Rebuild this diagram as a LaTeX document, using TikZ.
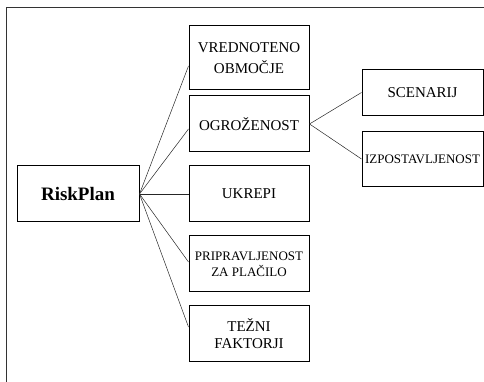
\documentclass[tikz,border=0pt]{standalone}
\usepackage{fontspec}
\setmainfont{Liberation Serif}
\usepackage{tikz}
\usetikzlibrary{positioning}
\tikzset{
  root/.style={
    rectangle,
    minimum width=122pt,
    minimum height=56pt,
    text centered,
    draw=black,
    line width=1pt,
    font=\rmfamily\bfseries\fontsize{19}{22}\selectfont
  },
  item/.style={
    rectangle,
    minimum width=120pt,
    minimum height=56pt,
    inner sep=1pt,
    align=center,
    draw=black,
    line width=1pt,
    font=\rmfamily\fontsize{15}{17}\selectfont
  },
  narrow/.style={
    font=\rmfamily\fontsize{13}{16}\selectfont
  },
  link/.style={
    line width=0.5pt,
    black!85
  },
  frame/.style={
    line width=0.8pt,
    black!80
  }
}

\begin{document}
\begin{tikzpicture}[node distance=70pt]
  \useasboundingbox (0,0) rectangle (484pt,382pt);
  \draw[frame] (484pt,375pt) -- (6pt,375pt) -- (6pt,0pt);

  % Root
  \node (risk) [root] at (78pt,188pt) {RiskPlan};

  % First level
  \node (ukrepi) [item, right of=risk, node distance=171pt] {UKREPI};
  \node (ogr) [item, above of=ukrepi] {OGROŽENOST};
  \node (vred) [item, above of=ogr, node distance=66pt, minimum height=64pt] {VREDNOTENO\\[4pt]OBMOČJE};
  \node (prip) [item, narrow, below of=ukrepi] {PRIPRAVLJENOST\\ZA PLAČILO};
  \node (tezni) [item, below of=prip] {TEŽNI\\FAKTORJI};

  % Second level
  \node (scen) [item, right of=ogr, node distance=173.5pt, yshift=31.5pt, minimum width=121pt, minimum height=46pt] {SCENARIJ};
  \node (izp) [item, narrow, right of=ogr, node distance=173.5pt, yshift=-35pt, minimum width=121pt, minimum height=55pt] {IZPOSTAVLJENOST};

  % Links
  \draw[link] (risk.east) -- ([yshift=-8pt]vred.west);
  \draw[link] (risk.east) -- ([yshift=-5pt]ogr.west);
  \draw[link] (risk.east) -- (ukrepi.west);
  \draw[link] (risk.east) -- ([yshift=2pt]prip.west);
  \draw[link] (risk.east) -- ([yshift=7pt]tezni.west);
  \draw[link] (ogr.east) -- (scen.west);
  \draw[link] (ogr.east) -- (izp.west);

\end{tikzpicture}
\end{document}
